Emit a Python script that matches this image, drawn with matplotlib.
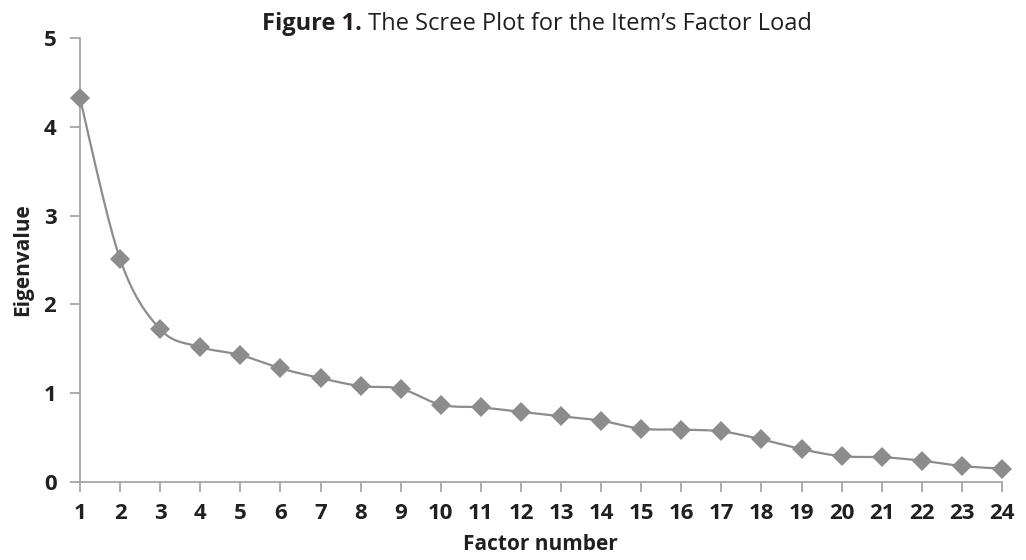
import numpy as np
import matplotlib
matplotlib.use("Agg")
import matplotlib.pyplot as plt

factors = list(range(1, 25))
eigenvalues = [4.32, 2.51, 1.72, 1.52, 1.43, 1.28, 1.17, 1.08, 1.05, 0.87, 0.84, 0.79,
               0.74, 0.69, 0.60, 0.59, 0.57, 0.48, 0.37, 0.29, 0.28, 0.24, 0.18, 0.15]
title_bold = "Figure 1."
title_rest = " The Scree Plot for the Item\u2019s Factor Load"
xlabel = "Factor number"
ylabel = "Eigenvalue"

plt.rcParams['font.family'] = ['Open Sans', 'DejaVu Sans']

LINE = '#8c8c8d'
AXC = '#a6a6a6'
TXT = '#231f20'


def smooth(xs, ys, n=30):
    """Catmull-Rom style rendering of the series (Excel 'smoothed line')."""
    xs = np.asarray(xs, float); ys = np.asarray(ys, float)
    P = np.column_stack([xs, ys])
    P = np.vstack([P[0], P, P[-1]])
    out = []
    for i in range(1, len(P) - 2):
        p0, p1, p2, p3 = P[i - 1], P[i], P[i + 1], P[i + 2]
        c1 = p1 + (p2 - p0) / 6.0
        c2 = p2 - (p3 - p1) / 6.0
        t = np.linspace(0, 1, n)[:, None]
        seg = ((1 - t) ** 3) * p1 + 3 * ((1 - t) ** 2) * t * c1 + 3 * (1 - t) * t ** 2 * c2 + t ** 3 * p2
        out.append(seg if i == 1 else seg[1:])
    s = np.vstack(out)
    return s[:, 0], s[:, 1]


fig = plt.figure(figsize=(10.26, 5.6), dpi=100)
W, H = 1026, 560
ax = fig.add_axes([80 / W, 1 - 482 / H, (1002 - 80) / W, (482 - 38) / H])

sx, sy = smooth(factors, eigenvalues)
ax.plot(sx, sy, color=LINE, lw=1.6, solid_capstyle='round', zorder=2, clip_on=False)
ax.plot(factors, eigenvalues, linestyle='none', marker='D', markersize=10,
        color=LINE, markeredgewidth=0, zorder=3, clip_on=False)

ax.set_xlim(1, 24)
ax.set_ylim(0, 5)
ax.set_xticks(factors)
ax.set_yticks([0, 1, 2, 3, 4, 5])

for s in ['top', 'right']:
    ax.spines[s].set_visible(False)
for s in ['left', 'bottom']:
    ax.spines[s].set_color(AXC)
    ax.spines[s].set_linewidth(1.3)

ax.tick_params(axis='both', colors=AXC, width=1.3, length=7, labelcolor=TXT, labelsize=16)
ax.tick_params(axis='x', pad=8)
ax.tick_params(axis='y', pad=10)
for lab in ax.get_xticklabels() + ax.get_yticklabels():
    lab.set_fontweight('bold')

fig.text(23 / W, 1 - 260 / H, ylabel, rotation=90, ha='center', va='center',
         fontsize=15, fontweight='bold', color=TXT)
fig.text(540 / W, 1 - 545 / H, xlabel, ha='center', va='center',
         fontsize=15, fontweight='bold', color=TXT)

# Title with bold prefix, centred as a whole
fig.canvas.draw()
r = fig.canvas.get_renderer()
t1 = fig.text(0, 0, title_bold, fontsize=17, fontweight='bold', color=TXT)
t2 = fig.text(0, 0, title_rest, fontsize=17, color=TXT)
w1 = t1.get_window_extent(r).width
w2 = t2.get_window_extent(r).width
cx = 537
x0 = cx - (w1 + w2) / 2
ty = 1 - 24 / H
t1.set_position((x0 / W, ty)); t1.set_va('center')
t2.set_position(((x0 + w1) / W, ty)); t2.set_va('center')

fig.savefig("out.png", dpi=100)
